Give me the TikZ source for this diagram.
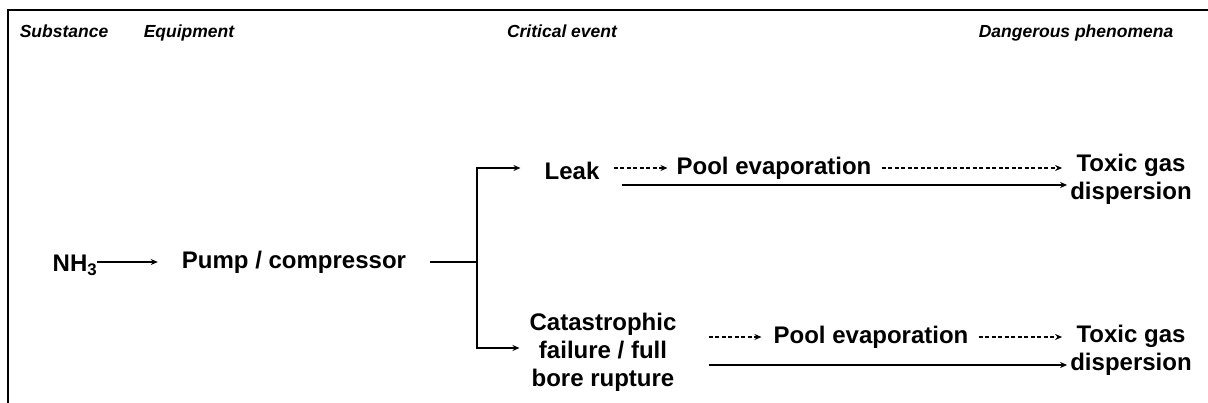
\documentclass[tikz,border=0pt]{standalone}
\usepackage{fontspec}
\setmainfont{Liberation Sans}
\usepackage{tikz}
\usetikzlibrary{calc,positioning,arrows.meta}

\tikzset{
  head/.style={font=\bfseries\itshape\fontsize{17.5}{21}\selectfont,inner sep=0pt,anchor=base},
  item/.style={font=\bfseries\fontsize{24}{28}\selectfont,inner sep=0pt,align=center},
  flow/.style={line width=1.6pt,-{Stealth[length=7pt,width=6pt]}},
  dflow/.style={flow,dash pattern=on 4pt off 2.5pt},
  wire/.style={line width=1.6pt}
}

\begin{document}
\begin{tikzpicture}[x=1pt,y=-1pt]
  \useasboundingbox (0,0) rectangle (1208,403);
  % frame
  \draw[line width=2.6pt] (8,403) -- (8,10) -- (1208,10);

  % column titles
  \node[head] (hsub) at (64,38) {Substance};
  \node[head] (hequ) at (189,38) {Equipment};
  \node[head] (hcri) at (562,38) {Critical event};
  \node[head] (hdan) at (1076,38) {Dangerous phenomena};

  % main chain
  \node[item] (nh3) at (75,265) {NH\textsubscript{3}};
  \node[item] (pump) at (294,262) {Pump / compressor};
  \coordinate (fork) at (477,262);
  \draw[flow,shorten >=24pt] (nh3.east |- pump) -- (pump.west);
  \draw[wire,shorten <=24pt] (pump.east) -- (fork);

  % leak branch
  \node[item] (leak) at (572,171) {Leak};
  \node[item] (poolA) at (774,168) {Pool evaporation};
  \node[item] (toxA) at (1131,179) {Toxic gas\\dispersion};
  \draw[flow,shorten >=24pt] (fork) |- ($(leak.west)+(0,-3)$);
  \draw[dflow,shorten <=14pt,shorten >=9pt] (leak.east |- poolA) -- (poolA.west);
  \draw[dflow,shorten <=10pt,shorten >=8pt] (poolA.east) -- (poolA -| toxA.west);
  \draw[flow] ($(leak.east)+(22,14)$) -- ($(toxA.west)+(-3,6)$);

  % rupture branch
  \node[item] (cata) at (603,352) {Catastrophic\\failure / full\\bore rupture};
  \node[item] (poolB) at (871,337) {Pool evaporation};
  \node[item] (toxB) at (1131,350) {Toxic gas\\dispersion};
  \draw[flow,shorten >=10pt] (fork) |- ($(cata.west)+(0,-4)$);
  \draw[dflow,shorten <=32pt,shorten >=12pt] (cata.east |- poolB) -- (poolB.west);
  \draw[dflow,shorten <=10pt,shorten >=8pt] (poolB.east) -- (poolB -| toxB.west);
  \draw[flow] ($(cata.east)+(32,13)$) -- ($(toxB.west)+(-3,15)$);
\end{tikzpicture}
\end{document}
